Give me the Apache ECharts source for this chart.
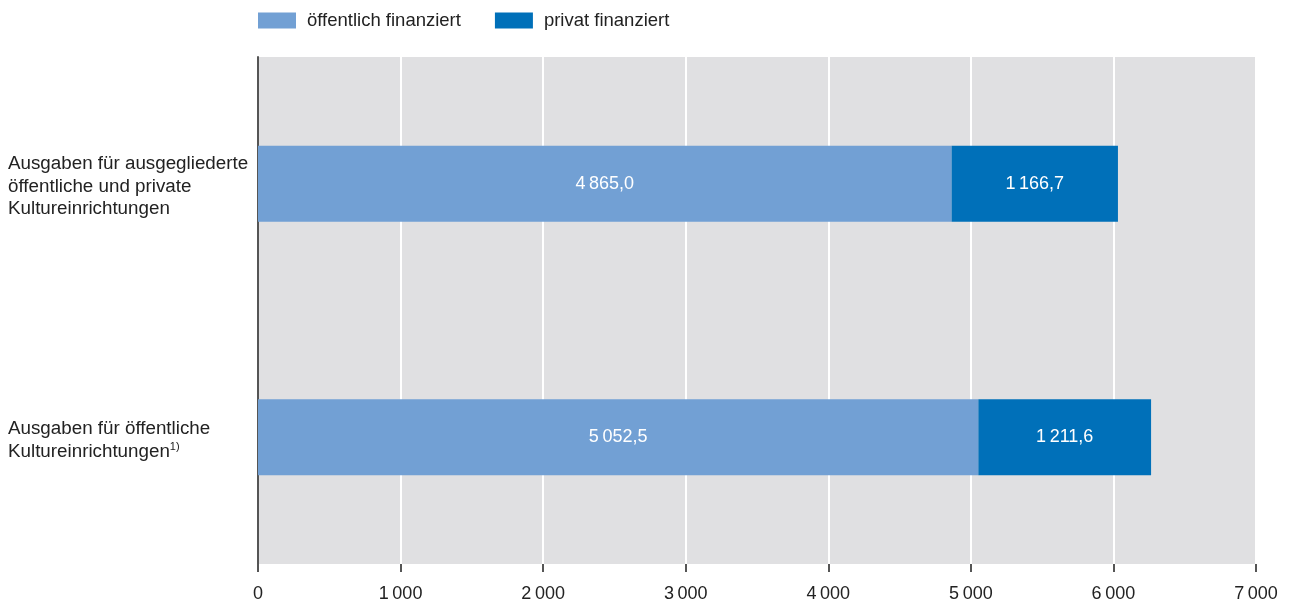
<!DOCTYPE html>
<html><head><meta charset="utf-8">
<script src="https://cdn.jsdelivr.net/npm/echarts@6/dist/echarts.min.js"></script>
<style>html,body{margin:0;padding:0;background:#fff}#c{width:1297px;height:610px}</style>
</head><body><div id="c"></div>
<script>
const categories = ['Ausgaben für ausgegliederte\nöffentliche und private\nKultureinrichtungen', 'Ausgaben für öffentliche\nKultureinrichtungen{sup|1)}'];
const seriesNames = ['öffentlich finanziert', 'privat finanziert'];
const publicValues = [4865.0, 5052.5];
const privateValues = [1166.7, 1211.6];
const xTicks = [0, 1000, 2000, 3000, 4000, 5000, 6000, 7000];

function fmt(v, dec) {
  const s = v.toFixed(dec);
  const parts = s.split('.');
  const intPart = parts[0].replace(/\B(?=(\d{3})+(?!\d))/g, '\u2009');
  return parts.length > 1 ? intPart + ',' + parts[1] : intPart;
}

const chart = echarts.init(document.getElementById('c'));
const font = "'Liberation Sans', Arial, sans-serif";
chart.setOption({
  animation: false,
  textStyle: { fontFamily: font },
  legend: {
    left: 253, top: 6, itemWidth: 38, itemHeight: 16, itemGap: 34,
    icon: 'rect',
    textStyle: { fontSize: 18.5, color: '#222', fontFamily: font, padding: [0,0,0,6] },
    data: seriesNames
  },
  grid: { left: 258, right: 41, top: 57, bottom: 46, show: true, backgroundColor: '#e0e0e2', borderWidth: 0 },
  xAxis: {
    type: 'value', min: 0, max: 7000, interval: 1000,
    axisLine: { show: false },
    axisTick: { show: true, length: 8, lineStyle: { color: '#555', width: 2 } },
    splitLine: { show: true, lineStyle: { color: '#ffffff', width: 2 } },
    axisLabel: { fontSize: 18, color: '#222', margin: 21, fontFamily: font,
      formatter: v => xTicks.includes(v) ? fmt(v, 0) : '' }
  },
  yAxis: {
    type: 'category', inverse: true, data: categories,
    axisLine: { show: true, lineStyle: { color: '#555', width: 2 } },
    axisTick: { show: false },
    axisLabel: {
      align: 'left', margin: 250, fontSize: 18.8, color: '#222', lineHeight: 22.5, fontFamily: font,
      padding: [6, 0, 0, 0],
      rich: { sup: { fontSize: 11, color: '#222', padding: [0,0,10,0], fontFamily: font } }
    }
  },
  series: [
    { name: seriesNames[0], type: 'bar', stack: 'a', barWidth: '30%', data: publicValues,
      itemStyle: { color: '#72a0d4' },
      label: { show: true, position: 'inside', color: '#fff', fontSize: 18, fontFamily: font, formatter: p => fmt(p.value, 1) } },
    { name: seriesNames[1], type: 'bar', stack: 'a', barWidth: '30%', data: privateValues,
      itemStyle: { color: '#0070b9' },
      label: { show: true, position: 'inside', color: '#fff', fontSize: 18, fontFamily: font, formatter: p => fmt(p.value, 1) } }
  ]
});
</script></body></html>
